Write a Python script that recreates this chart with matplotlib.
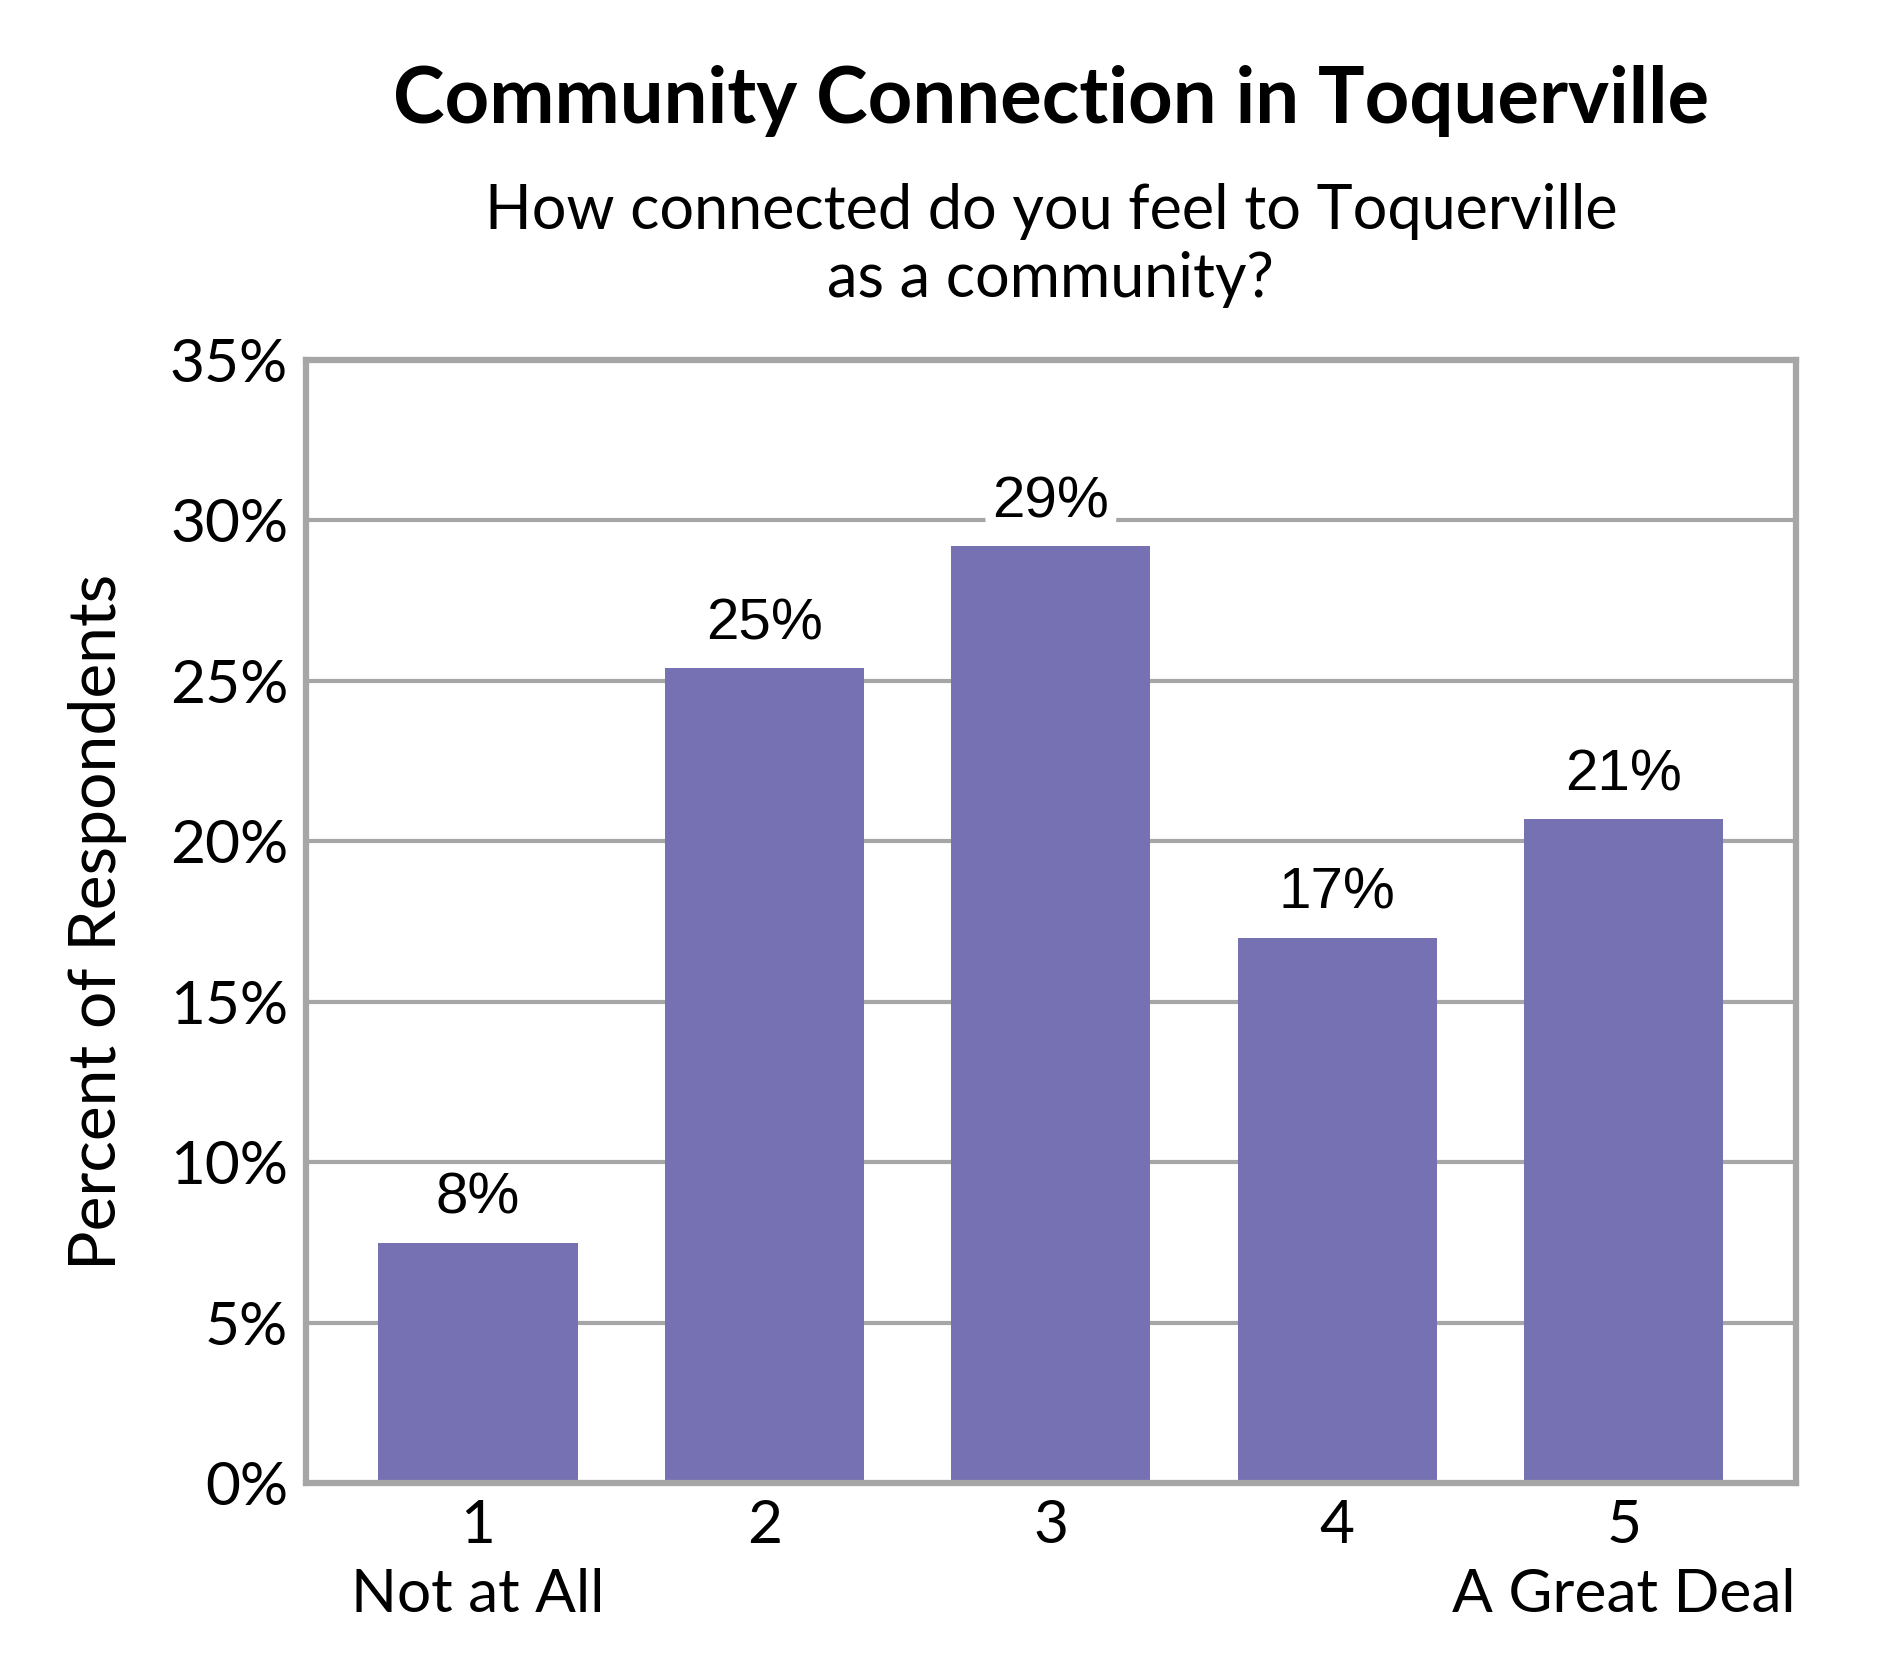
import matplotlib.pyplot as plt
import numpy as np

categories = ['1\nNot at All', '2', '3', '4', '5\nA Great Deal']
percents = [7.5, 25.4, 29.2, 17.0, 20.7]
y_ticks = [0, 5, 10, 15, 20, 25, 30, 35]

title = 'Community Connection in Toquerville'
subtitle = 'How connected do you feel to Toquerville\nas a community?'
y_label = 'Percent of Respondents'

bar_color = '#7571B2'
frame_color = '#A6A6A6'
body_font = ['Lato', 'DejaVu Sans']
label_font = ['Liberation Sans', 'DejaVu Sans']

plt.rcParams['font.family'] = body_font

fig = plt.figure(figsize=(18.9, 16.8), dpi=100)
ax = fig.add_axes([0.162, 0.117, 0.788, 0.669])

x = np.arange(1, len(categories) + 1)
bars = ax.bar(x, percents, width=0.695, color=bar_color, zorder=2)

for rect, v in zip(bars, percents):
    ax.annotate(f'{int(v + 0.5)}%',
                xy=(rect.get_x() + rect.get_width() / 2, rect.get_height()),
                xytext=(0, 12), textcoords='offset points',
                ha='center', va='bottom', fontsize=42, family=label_font,
                zorder=3,
                bbox=dict(boxstyle='round,pad=0.12,rounding_size=0.3',
                          fc='white', ec='none'))

ax.set_xlim(0.4, 5.6)
ax.set_ylim(0, 35)
ax.set_yticks(y_ticks)
ax.set_yticklabels([f'{t}%' for t in y_ticks])
ax.set_xticks(x)
ax.set_xticklabels(categories, linespacing=1.35)
ax.tick_params(axis='both', length=0, labelsize=43.5)
ax.tick_params(axis='y', pad=13)
ax.tick_params(axis='x', pad=11)

ax.yaxis.grid(True, color=frame_color, linewidth=3, zorder=0)
ax.set_axisbelow(True)
for s in ax.spines.values():
    s.set_color(frame_color)
    s.set_linewidth(4.5)
    s.set_zorder(4)

ax.set_ylabel(y_label, fontsize=47.5)
ax.yaxis.set_label_coords(-0.12, 0.5)

fig.text(0.556, 0.940, title, ha='center', va='center',
         fontsize=56, fontweight='bold')
fig.text(0.556, 0.854, subtitle, ha='center', va='center',
         fontsize=44, linespacing=1.25)

fig.savefig('out.png', dpi=100, facecolor='white')
